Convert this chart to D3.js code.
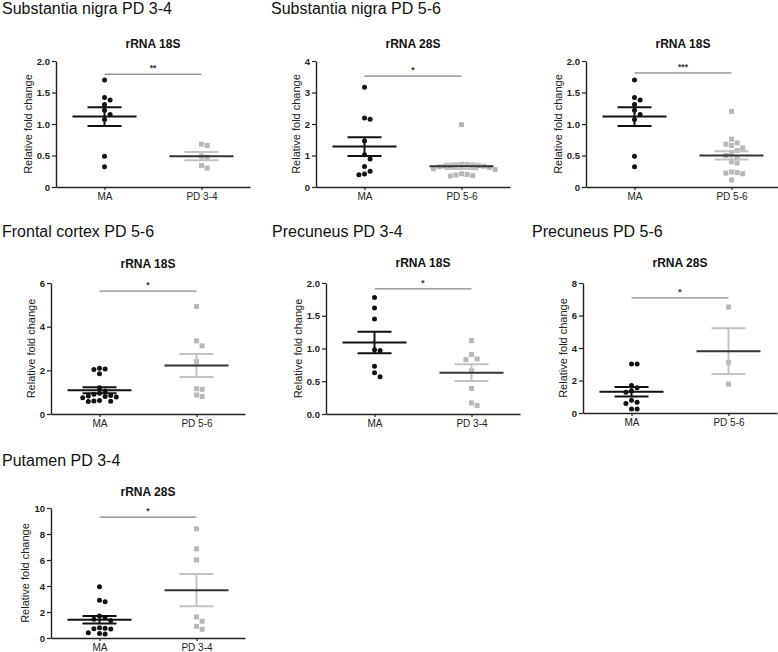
<!DOCTYPE html>
<html>
<head>
<meta charset="utf-8">
<script src="https://cdn.jsdelivr.net/npm/d3@7"></script>
<style>
  html, body { margin: 0; padding: 0; background: #fff; }
  svg { display: block; }
</style>
</head>
<body>
<svg id="chart" width="778" height="652"></svg>
<script>
// ---------------- DATA ----------------
const sectionTitles = ["Substantia nigra PD 3-4", "Substantia nigra PD 5-6", "Frontal cortex PD 5-6",
                       "Precuneus PD 3-4", "Precuneus PD 5-6", "Putamen PD 3-4"];
const chartTitles = ["rRNA 18S", "rRNA 28S", "rRNA 18S", "rRNA 18S", "rRNA 18S", "rRNA 28S", "rRNA 28S"];
const groupCats = [["MA", "PD 3-4"], ["MA", "PD 5-6"], ["MA", "PD 5-6"], ["MA", "PD 5-6"],
                   ["MA", "PD 3-4"], ["MA", "PD 5-6"], ["MA", "PD 3-4"]];
const stars = ["**", "*", "***", "*", "*", "*", "*"];
const sigLevels = [1.79, 3.52, 1.81, 5.63, 1.91, 7.08, 9.3];
const yMaxes = [2, 4, 2, 6, 2, 8, 10];
const tickValues = [
  [0, 0.5, 1.0, 1.5, 2.0], [0, 1, 2, 3, 4], [0, 0.5, 1.0, 1.5, 2.0], [0, 2, 4, 6],
  [0, 0.5, 1.0, 1.5, 2.0], [0, 2, 4, 6, 8], [0, 2, 4, 6, 8, 10]
];
const tickLabels = [
  ["0", "0.5", "1.0", "1.5", "2.0"], ["0", "1", "2", "3", "4"], ["0", "0.5", "1.0", "1.5", "2.0"],
  ["0", "2", "4", "6"], ["0.0", "0.5", "1.0", "1.5", "2.0"], ["0", "2", "4", "6", "8"],
  ["0", "2", "4", "6", "8", "10"]
];

const snigra34_18S_MA = [1.70, 1.42, 1.38, 1.31, 1.22, 1.15, 1.07, 0.49, 0.32];
const snigra34_18S_PD = [0.68, 0.66, 0.49, 0.47, 0.34, 0.30];
const snigra56_28S_MA = [3.17, 2.19, 2.15, 1.46, 1.02, 0.89, 0.65, 0.50, 0.41, 0.39];
const snigra56_28S_PD = [1.98, 0.72, 0.72, 0.70, 0.70, 0.68, 0.68, 0.66, 0.66, 0.64, 0.62, 0.58, 0.55,
                         0.42, 0.40, 0.38, 0.36, 0.35];
const snigra56_18S_MA = [1.70, 1.42, 1.38, 1.31, 1.22, 1.15, 1.07, 0.49, 0.32];
const snigra56_18S_PD = [1.20, 0.76, 0.70, 0.68, 0.66, 0.62, 0.58, 0.55, 0.50, 0.47, 0.40, 0.38,
                         0.24, 0.23, 0.22, 0.21, 0.11];
const frontal56_18S_MA = [2.10, 2.06, 2.04, 1.84, 1.20, 1.05, 0.95, 0.90, 0.85, 0.82, 0.80, 0.78,
                          0.75, 0.62, 0.60, 0.58, 0.57];
const frontal56_18S_PD = [4.93, 3.35, 3.12, 2.40, 1.16, 1.13, 0.87, 0.80];
const precun34_18S_MA = [1.78, 1.62, 1.45, 0.98, 0.97, 0.73, 0.63, 0.57];
const precun34_18S_PD = [1.12, 0.91, 0.84, 0.83, 0.66, 0.39, 0.17, 0.13];
const precun56_28S_MA = [3.02, 3.02, 1.70, 1.55, 1.35, 1.28, 0.78, 0.66, 0.58, 0.25, 0.25];
const precun56_28S_PD = [6.52, 3.12, 1.78];
const putamen34_28S_MA = [3.94, 2.91, 2.79, 1.70, 1.55, 1.45, 1.35, 0.78, 0.75, 0.72, 0.70, 0.40, 0.35, 0.30];
const putamen34_28S_PD = [8.40, 6.86, 6.01, 1.62, 1.29, 0.90, 0.67];

const seriesByPanel = [
  [snigra34_18S_MA, snigra34_18S_PD], [snigra56_28S_MA, snigra56_28S_PD],
  [snigra56_18S_MA, snigra56_18S_PD], [frontal56_18S_MA, frontal56_18S_PD],
  [precun34_18S_MA, precun34_18S_PD], [precun56_28S_MA, precun56_28S_PD],
  [putamen34_28S_MA, putamen34_28S_PD]
];

// ---------------- LAYOUT ----------------
const FONT = "'Liberation Sans', Arial, Helvetica, sans-serif";
const sectionPos = [[2, 14], [271, 14], [2, 237], [272, 237], [532, 237], [2, 466]];
const panelBoxes = [ // left, top, bottom, titleBaseline
  [56, 61, 187, 48], [316, 61, 187, 48], [586, 61, 187, 48],
  [51, 283, 414, 268], [326, 283, 414, 267], [583, 283, 413, 267],
  [51, 508, 638, 496]
];
const AXIS_W = 194;

const svg = d3.select("#chart");

svg.selectAll("text.section")
  .data(sectionTitles)
  .join("text")
  .attr("class", "section")
  .attr("x", (d, i) => sectionPos[i][0])
  .attr("y", (d, i) => sectionPos[i][1])
  .attr("font-family", FONT)
  .attr("font-size", 16)
  .attr("fill", "#111")
  .text(d => d);

function meanSem(arr) {
  const m = d3.mean(arr);
  const sd = d3.deviation(arr);
  return [m, sd / Math.sqrt(arr.length)];
}

function jitter(vals, y, spacing, minDist) {
  const order = vals.map((v, i) => i).sort((a, b) => vals[b] - vals[a]);
  const placed = [];
  const out = new Array(vals.length);
  order.forEach(i => {
    const py = y(vals[i]);
    let k = 0;
    while (true) {
      const step = Math.ceil(k / 2) * (k % 2 === 1 ? 1 : -1);
      const ox = step * spacing;
      const ok = placed.every(p => (p[0] - ox) ** 2 + (p[1] - py) ** 2 >= minDist * minDist);
      if (ok) { placed.push([ox, py]); out[i] = ox; break; }
      k++;
    }
  });
  return out;
}

seriesByPanel.forEach((series, pi) => {
  const [left, top, bottom, titleY] = panelBoxes[pi];
  const g = svg.append("g");
  const y = d3.scaleLinear().domain([0, yMaxes[pi]]).range([bottom, top]);
  const x = d3.scalePoint().domain(groupCats[pi]).range([left, left + AXIS_W]).padding(0.5);

  // title
  g.append("text")
    .attr("x", (x(groupCats[pi][0]) + x(groupCats[pi][1])) / 2)
    .attr("y", titleY)
    .attr("text-anchor", "middle")
    .attr("font-family", FONT)
    .attr("font-weight", "bold")
    .attr("font-size", 12)
    .attr("fill", "#111")
    .text(chartTitles[pi]);

  // y axis
  const yAxis = g.append("g")
    .attr("transform", `translate(${left},0)`)
    .call(d3.axisLeft(y).tickValues(tickValues[pi])
      .tickFormat((d, i) => tickLabels[pi][i]).tickSize(4).tickSizeOuter(0).tickPadding(2));
  yAxis.select(".domain").attr("stroke", "#222").attr("stroke-width", 1.4);
  yAxis.selectAll(".tick line").attr("stroke", "#222").attr("stroke-width", 1.2);
  yAxis.selectAll(".tick text")
    .attr("font-family", FONT).attr("font-size", 9.5).attr("font-weight", "bold").attr("fill", "#222");

  // x axis
  const xAxis = g.append("g")
    .attr("transform", `translate(0,${bottom})`)
    .call(d3.axisBottom(x).tickSize(3).tickSizeOuter(0).tickPadding(3));
  xAxis.select(".domain").attr("stroke", "#222").attr("stroke-width", 1.4);
  xAxis.selectAll(".tick line").attr("stroke", "#222").attr("stroke-width", 1.2);
  xAxis.selectAll(".tick text")
    .attr("font-family", FONT).attr("font-size", 10).attr("fill", "#222");

  // y axis title
  let minX = left;
  yAxis.selectAll(".tick text").each(function () {
    const b = this.getBBox();
    minX = Math.min(minX, left + b.x);
  });
  const midY = (top + bottom) / 2;
  g.append("text")
    .attr("transform", `translate(${minX - 5},${midY}) rotate(-90)`)
    .attr("text-anchor", "middle")
    .attr("font-family", FONT)
    .attr("font-size", 11)
    .attr("fill", "#222")
    .text("Relative fold change");

  // significance bar
  const sy = y(sigLevels[pi]);
  g.append("line")
    .attr("x1", x(groupCats[pi][0])).attr("x2", x(groupCats[pi][1]))
    .attr("y1", sy).attr("y2", sy)
    .attr("stroke", "#666").attr("stroke-width", 1);
  g.append("text")
    .attr("x", (x(groupCats[pi][0]) + x(groupCats[pi][1])) / 2)
    .attr("y", sy - 3)
    .attr("text-anchor", "middle")
    .attr("font-family", FONT)
    .attr("font-size", 8.5)
    .attr("font-weight", "bold")
    .attr("fill", "#333")
    .text(stars[pi]);

  // points + mean/SEM
  series.forEach((vals, si) => {
    const cx = x(groupCats[pi][si]);
    const offs = jitter(vals, y, 5.6, 5.4);
    if (si === 0) {
      g.append("g").selectAll("circle")
        .data(vals).join("circle")
        .attr("cx", (d, i) => cx + offs[i])
        .attr("cy", d => y(d))
        .attr("r", 2.5)
        .attr("fill", "#111");
    } else {
      g.append("g").selectAll("rect")
        .data(vals).join("rect")
        .attr("x", (d, i) => cx + offs[i] - 2.5)
        .attr("y", d => y(d) - 2.5)
        .attr("width", 5).attr("height", 5)
        .attr("fill", "#b8b8b8");
    }
    const [m, sem] = meanSem(vals);
    const semColor = si === 0 ? "#111" : "#c2c2c2";
    const meanColor = si === 0 ? "#111" : "#333";
    const lg = g.append("g");
    lg.append("line")
      .attr("x1", cx).attr("x2", cx).attr("y1", y(m + sem)).attr("y2", y(m - sem))
      .attr("stroke", semColor).attr("stroke-width", 2);
    [m + sem, m - sem].forEach(v => {
      lg.append("line")
        .attr("x1", cx - 17).attr("x2", cx + 17).attr("y1", y(v)).attr("y2", y(v))
        .attr("stroke", semColor).attr("stroke-width", 2);
    });
    lg.append("line")
      .attr("x1", cx - 32).attr("x2", cx + 32).attr("y1", y(m)).attr("y2", y(m))
      .attr("stroke", meanColor).attr("stroke-width", 2);
  });
});
</script>
</body>
</html>
